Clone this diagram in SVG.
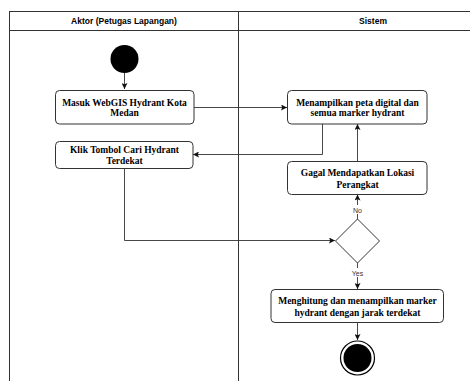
<svg xmlns="http://www.w3.org/2000/svg" width="470" height="381" viewBox="0 0 470 381">
<defs>
<style>
.lane{fill:none;stroke:#333;stroke-width:1}
.hdr{font-family:"Liberation Sans",Arial,sans-serif;font-weight:bold;font-size:8.5px;fill:#000;text-anchor:middle}
.box{fill:#fff;stroke:#333;stroke-width:1}
.txt{font-family:"Liberation Serif","Times New Roman",serif;font-weight:bold;font-size:9.5px;fill:#000;text-anchor:middle}
.lbl{font-family:"Liberation Sans",Arial,sans-serif;font-size:7px;fill:#333;text-anchor:middle}
.edge{fill:none;stroke:#333;stroke-width:0.9}
</style>
<marker id="arr" viewBox="0 0 10 10" refX="10" refY="5" markerWidth="6" markerHeight="6" markerUnits="userSpaceOnUse" orient="auto">
<path d="M0,0 L10,5 L0,10 L2,5 Z" fill="#111"/>
</marker>
</defs>
<rect width="470" height="381" fill="#fff"/>
<g id="lanes">
<rect class="lane" x="9.5" y="11.5" width="470" height="380"/>
<line class="lane" x1="9.5" y1="30.5" x2="470" y2="30.5"/>
<line class="lane" x1="238.5" y1="11.5" x2="238.5" y2="381"/>
<text class="hdr" x="124" y="23.5">Aktor (Petugas Lapangan)</text>
<text class="hdr" x="373" y="23.5">Sistem</text>
</g>
<g id="edges">
<path class="edge" d="M124.5,73 V89" marker-end="url(#arr)"/>
<path class="edge" d="M194,107.5 H287" marker-end="url(#arr)"/>
<path class="edge" d="M322.5,124 V154.5 H193" marker-end="url(#arr)"/>
<path class="edge" d="M124.5,169 V240.5 H335" marker-end="url(#arr)"/>
<path class="edge" d="M357.5,219 V194.5" marker-end="url(#arr)"/>
<path class="edge" d="M357.5,161.5 V124" marker-end="url(#arr)"/>
<path class="edge" d="M357.5,263 V289" marker-end="url(#arr)"/>
<path class="edge" d="M357.5,322.5 V340" marker-end="url(#arr)"/>
<rect x="349" y="205" width="17" height="9" fill="#fff"/>
<text class="lbl" x="357.5" y="213">No</text>
<rect x="347" y="268" width="21" height="9" fill="#fff"/>
<text class="lbl" x="357.5" y="275.5">Yes</text>
</g>
<g id="start">
<circle cx="124.5" cy="59" r="14" fill="#000"/>
</g>
<g id="masuk">
<rect class="box" x="55.5" y="90.5" width="138.5" height="33.5" rx="4"/>
<text class="txt" x="124.5" y="105.5">Masuk WebGIS Hydrant Kota</text>
<text class="txt" x="124.5" y="115.5">Medan</text>
</g>
<g id="menampilkan">
<rect class="box" x="287.5" y="90.5" width="139.5" height="33.5" rx="4"/>
<text class="txt" x="357.5" y="105.5">Menampilkan peta digital dan</text>
<text class="txt" x="357.5" y="115.5">semua marker hydrant</text>
</g>
<g id="klik">
<rect class="box" x="55.5" y="141.5" width="137.5" height="27" rx="4"/>
<text class="txt" x="124.5" y="152.5">Klik Tombol Cari Hydrant</text>
<text class="txt" x="124.5" y="164">Terdekat</text>
</g>
<g id="gagal">
<rect class="box" x="287.5" y="161.5" width="139.5" height="33" rx="4"/>
<text class="txt" x="357.5" y="176">Gagal Mendapatkan Lokasi</text>
<text class="txt" x="357.5" y="187.5">Perangkat</text>
</g>
<g id="decision">
<path d="M357.5,219 L379.5,241 L357.5,263 L335.5,241 Z" fill="#fff" stroke="#333" stroke-width="1"/>
</g>
<g id="hitung">
<rect class="box" x="271" y="289.5" width="172.5" height="33" rx="4"/>
<text class="txt" x="357.5" y="304">Menghitung dan menampilkan marker</text>
<text class="txt" x="357.5" y="315.5">hydrant dengan jarak terdekat</text>
</g>
<g id="end">
<circle cx="357.5" cy="358" r="17" fill="#fff" stroke="#000" stroke-width="1.2"/>
<circle cx="357.5" cy="358" r="14" fill="#000"/>
</g>
</svg>
